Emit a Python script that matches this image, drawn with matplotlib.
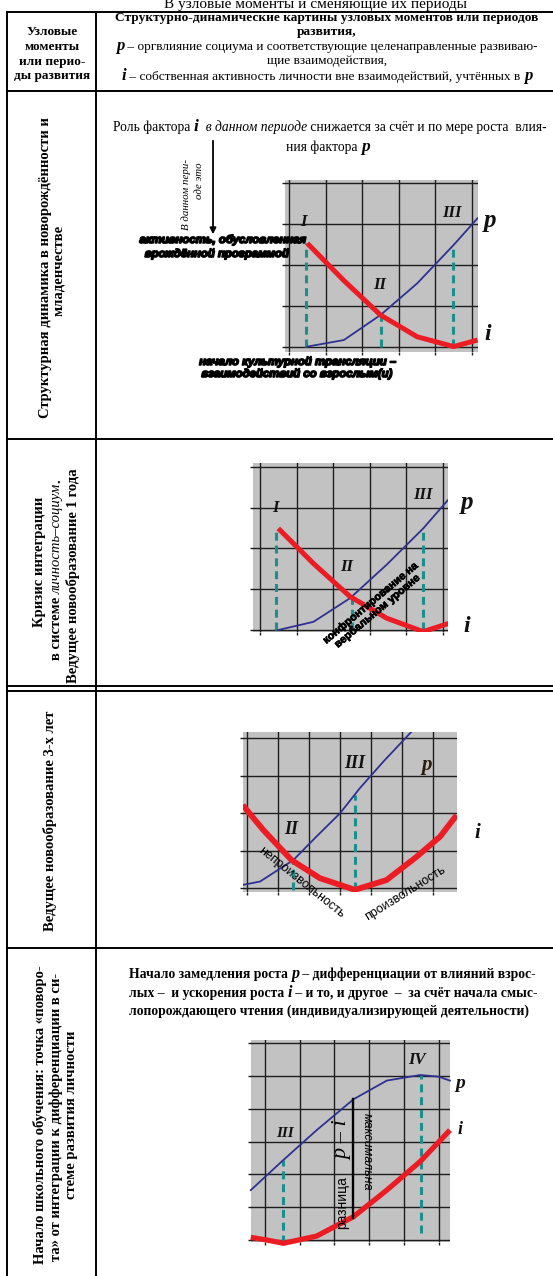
import matplotlib
matplotlib.use("Agg")
import matplotlib.pyplot as plt
from matplotlib import patheffects as pe

SERIF = 'Liberation Serif'
SANS = 'Liberation Sans'
RED = '#ec1c24'
BLUE = '#2e3192'
TEAL = '#1b8f8c'
GRAY = '#c2c2c2'
GRID = '#1e1e1e'

# ---- chart data (grid units) ----
c1_x = [0.5, 1.5, 2.5, 3.5, 4.5, 5.15]
c1_i = [2.53, 1.62, 0.78, 0.25, 0.01, 0.17]
c1_p = [0.01, 0.17, 0.78, 1.55, 2.49, 3.14]
c1_dash_x = [0.46, 2.5, 4.47]
c1_dash_top = [2.53, 0.78, 2.49]

c2_x = [0.5, 1.46, 2.46, 3.46, 4.46, 5.15]
c2_i = [2.49, 1.63, 0.82, 0.29, -0.04, 0.16]
c2_p = [0.0, 0.2, 0.78, 1.6, 2.49, 3.2]
c2_dash_x = [0.45, 2.5, 4.44]
c2_dash_top = [2.49, 0.8, 2.49]

c3_i_x = [-0.13, 0.53, 1.45, 2.36, 3.49, 4.51, 5.48, 6.24, 6.77]
c3_i = [2.22, 1.56, 0.75, 0.27, -0.04, 0.22, 0.84, 1.38, 1.95]
c3_p_x = [-0.13, 0.43, 1.5, 2.25, 3.01, 3.65, 4.41, 5.32]
c3_p = [0.09, 0.18, 0.75, 1.38, 2.0, 2.67, 3.38, 4.18]
c3_dash_x = [1.48, 3.49]
c3_dash_top = [0.75, 2.49]

c4_p_x = [-0.41, 0.53, 1.49, 2.55, 3.51, 4.47, 5.0, 5.33]
c4_p = [1.52, 2.44, 3.35, 4.29, 4.86, 5.03, 4.98, 4.86]
c4_i_x = [-0.41, 0.05, 0.53, 1.49, 2.55, 3.51, 4.47, 5.33]
c4_i = [0.08, 0.0, -0.1, 0.12, 0.71, 1.52, 2.39, 3.35]
c4_dash_x = [0.53, 4.49]
c4_dash_top = [2.44, 5.03]
c4_dash_bot = [-0.1, 0.2]
c4_gap_x = 2.55
c4_gap = [0.66, 4.29]

W, H = 553, 1276
fig = plt.figure(figsize=(W / 100, H / 100), dpi=100)


def chart(origin, unit, box, nx, ny):
    (x0, y0), (ux, uy), (l, t, r, b) = origin, unit, box
    a = fig.add_axes([l / W, 1 - b / H, (r - l) / W, (b - t) / H])
    a.set_xlim((l - x0) / ux, (r - x0) / ux)
    a.set_ylim((y0 - b) / uy, (y0 - t) / uy)
    a.set_facecolor(GRAY)
    a.set_xticks(range(nx + 1))
    a.set_yticks(range(ny + 1))
    a.tick_params(length=2.5, width=1, color=GRID, labelbottom=False, labelleft=False)
    a.grid(color=GRID, lw=1)
    a.set_axisbelow(True)
    for s in a.spines.values():
        s.set_visible(False)
    return a


def roman(a, x, y, s, size=12):
    a.text(x, y, s, fontsize=size, family=SERIF, fontweight='bold', fontstyle='italic',
           ha='center', va='center', color='#111111')


def dashes(a, xs, tops, bots, lw=2.2):
    for x, t, b in zip(xs, tops, bots):
        a.plot([x, x], [b, t], color=TEAL, lw=lw, ls=(0, (2.6, 1.6)), clip_on=False, zorder=2)


# chart 1
a1 = chart((289, 347), (36.6, 41), (285, 180, 478, 352), 5, 4)
dashes(a1, c1_dash_x, c1_dash_top, [0, 0, 0])
a1.plot(c1_x, c1_p, color=BLUE, lw=1.3, zorder=3)
a1.plot(c1_x, c1_i, color=RED, lw=3.6, zorder=4, solid_capstyle='butt')
roman(a1, 0.39, 3.06, 'I')
roman(a1, 2.49, 1.51, 'II')
roman(a1, 4.45, 3.26, 'III')

# chart 2
a2 = chart((260, 630), (36.6, 40.8), (253, 463, 448, 632), 5, 4)
dashes(a2, c2_dash_x, c2_dash_top, [0, 0, 0])
a2.plot(c2_x, c2_p, color=BLUE, lw=1.3, zorder=3)
a2.plot(c2_x, c2_i, color=RED, lw=3.6, zorder=4, solid_capstyle='butt')
roman(a2, 0.41, 2.98, 'I')
roman(a2, 2.37, 1.55, 'II')
roman(a2, 4.46, 3.31, 'III')

# chart 3
a3 = chart((246.7, 888.3), (31, 37.5), (242.7, 731.7, 457.3, 892), 6, 4)
dashes(a3, c3_dash_x, c3_dash_top, [-0.04, -0.04])
a3.plot(c3_p_x, c3_p, color=BLUE, lw=1.3, zorder=3)
a3.plot(c3_i_x, c3_i, color=RED, lw=4.2, zorder=4, solid_capstyle='butt')
roman(a3, 1.45, 1.56, 'II', 13)
roman(a3, 3.49, 3.33, 'III', 13)
a3.text(5.81, 3.29, 'p', fontsize=15, family=SERIF, fontweight='bold', fontstyle='italic',
        ha='center', va='center', color='#2a1a0a')

# chart 4
a4 = chart((265, 1240), (34.7, 32.8), (250.7, 1040, 450, 1242), 5, 6)
dashes(a4, c4_dash_x, c4_dash_top, c4_dash_bot)
a4.plot(c4_p_x, c4_p, color=BLUE, lw=1.3, zorder=3, clip_on=False)
a4.plot(c4_i_x, c4_i, color=RED, lw=3.8, zorder=4, clip_on=False, solid_capstyle='butt')
a4.plot([c4_gap_x, c4_gap_x], c4_gap, color='black', lw=1.7, zorder=5)
roman(a4, 0.58, 3.25, 'III', 11)
roman(a4, 4.37, 5.49, 'IV', 12)

# ---- overlay axes in pixel coordinates ----
ax = fig.add_axes([0, 0, 1, 1], zorder=5)
ax.set_xlim(0, W)
ax.set_ylim(H, 0)
ax.axis('off')

# table lines
LW = 1.4
for y in [12, 91, 439, 686, 691, 948]:
    ax.plot([7, W], [y, y], color='black', lw=LW)
for x in [7, 96]:
    ax.plot([x, x], [12, H], color='black', lw=LW)

R = fig.canvas.get_renderer()


def tw(s, **f):
    t1 = ax.text(0, 0, 'x' + s + 'x', **f)
    t2 = ax.text(0, 0, 'xx', **f)
    w = t1.get_window_extent(R).width - t2.get_window_extent(R).width
    t1.remove()
    t2.remove()
    return w


def rich(x, y, parts, size, align='center', rot=0, fam=SERIF, va='baseline'):
    fonts = []
    for p in parts:
        s, wt, st = p[:3]
        sz = p[3] if len(p) > 3 else size
        fonts.append(dict(fontsize=sz, family=fam, fontweight=wt, fontstyle=st))
    ws = [tw(p[0], **f) for p, f in zip(parts, fonts)]
    total = sum(ws)
    off = {'left': 0, 'center': -total / 2, 'right': -total}[align]
    for p, f, w in zip(parts, fonts, ws):
        if rot == 0:
            px, py = x + off, y
        else:
            px, py = x, y - off
        ax.text(px, py, p[0], rotation=rot, rotation_mode='anchor', ha='left', va=va,
                color='black', **f)
        off += w


# title at top (cut by the page edge in the source)
ax.text(315, 8, 'В узловые моменты и сменяющие их периоды', fontsize=11, family=SERIF,
        ha='center', va='baseline')

# header
for y, s in zip([35, 50, 65, 79], ['Узловые', 'моменты', 'или перио-', 'ды развития']):
    ax.text(52, y, s, fontsize=9.5, family=SERIF, fontweight='bold', ha='center', va='baseline')

HS = 9.6
rich(327, 21, [('Структурно-динамические картины узловых моментов или периодов', 'bold', 'normal')], HS)
rich(327, 35, [('развития,', 'bold', 'normal')], HS)
rich(327, 50, [('p', 'bold', 'italic', 12),
               (' – оргвлияние социума и соответствующие целенаправленные развиваю-', 'normal', 'normal')], HS)
rich(327, 64, [('щие взаимодействия,', 'normal', 'normal')], HS)
rich(327, 80, [('i', 'bold', 'italic', 12),
               (' – собственная активность личности вне взаимодействий, учтённых в ', 'normal', 'normal'),
               ('p', 'bold', 'italic', 12)], HS)

# left column (rotated)
LS = 10.5
rich(45, 268, [('Структурная динамика в новорождённости и', 'bold', 'normal')], LS, rot=90, va='center')
rich(59, 270, [('младенчестве', 'bold', 'normal')], LS, rot=90, va='center')
rich(40, 562, [('Кризис интеграции', 'bold', 'normal')], LS, rot=90, va='center')
rich(57, 570, [('в системе ', 'bold', 'normal'), ('личность–социум', 'normal', 'italic'),
               ('.', 'bold', 'normal')], LS, rot=90, va='center')
rich(73, 576, [('Ведущее новообразование 1 года', 'bold', 'normal')], LS, rot=90, va='center')
rich(50, 821, [('Ведущее новообразование 3-х лет', 'bold', 'normal')], LS, rot=90, va='center')
rich(40, 1115, [('Начало школьного обучения: точка «поворо-', 'bold', 'normal')], LS, rot=90, va='center')
rich(56, 1117, [('та» от интеграции к дифференциации в си-', 'bold', 'normal')], LS, rot=90, va='center')
rich(72, 1115, [('стеме развития личности', 'bold', 'normal')], LS, rot=90, va='center')

# row 1 texts
rich(330, 131, [('Роль фактора ', 'normal', 'normal'), ('i', 'bold', 'italic', 12.5),
                ('  в данном периоде', 'normal', 'italic'),
                (' снижается за счёт и по мере роста  влия-', 'normal', 'normal')], 9.8)
rich(328, 151, [('ния фактора ', 'normal', 'normal'), ('p', 'bold', 'italic', 12.5)], 9.8)
ax.annotate('', xy=(213, 237), xytext=(213, 138),
            arrowprops=dict(arrowstyle='-|>', color='black', lw=1.3, mutation_scale=9))
ax.text(186, 195, 'В данном пери-', rotation=90, rotation_mode='anchor', fontsize=7.8,
        family=SERIF, fontstyle='italic', ha='center', va='center')
ax.text(200, 181, 'оде это', rotation=90, rotation_mode='anchor', fontsize=7.8,
        family=SERIF, fontstyle='italic', ha='center', va='center')

heavy = [pe.withStroke(linewidth=1.1, foreground='black')]
light = [pe.withStroke(linewidth=0.5, foreground='black')]
ax.text(223, 243, 'активность, обусловленная', fontsize=8.2, family=SANS, fontweight='bold',
        fontstyle='italic', ha='center', va='baseline', path_effects=heavy)
ax.text(217, 257, 'врождённой программой', fontsize=8.2, family=SANS, fontweight='bold',
        fontstyle='italic', ha='center', va='baseline', path_effects=heavy)
ax.text(298, 365, 'начало культурной трансляции –', fontsize=8.2, family=SANS, fontweight='bold',
        fontstyle='italic', ha='center', va='baseline', path_effects=heavy)
ax.text(297, 377, 'взаимодействий со взрослым(и)', fontsize=8.2, family=SANS, fontweight='bold',
        fontstyle='italic', ha='center', va='baseline', path_effects=heavy)


# p / i labels
def pi(x, y, s, size):
    ax.text(x, y, s, fontsize=size, family=SERIF, fontweight='bold', fontstyle='italic',
            ha='center', va='center', color='#111111')


pi(490, 220, 'p', 18)
pi(488, 335, 'i', 17)
pi(467, 503, 'p', 18)
pi(467, 627, 'i', 17)
pi(477, 833, 'i', 15)
pi(460, 1083, 'p', 14)
pi(460, 1130, 'i', 13)

# chart 2 slanted label
ax.text(374, 607, 'конфронтирование на\nвербальном уровне', rotation=40, rotation_mode='anchor',
        fontsize=7.8, family=SANS, fontweight='bold', ha='center', va='center',
        multialignment='center', linespacing=1.0, path_effects=light)

# chart 3 slanted labels
ax.text(301, 883, 'непроизвольность', rotation=-38.7, rotation_mode='anchor', fontsize=9,
        family=SANS, ha='center', va='center')
ax.text(405, 893, 'произвольность', rotation=32, rotation_mode='anchor', fontsize=9,
        family=SANS, ha='center', va='center')

# row 4 text
RS = 9.8
rich(129, 978, [('Начало замедления роста ', 'bold', 'normal'), ('p', 'bold', 'italic', 11.5),
                (' – дифференциации от влияний взрос-', 'bold', 'normal')], RS, align='left')
rich(129, 997, [('лых –  и ускорения роста ', 'bold', 'normal'), ('i', 'bold', 'italic', 11.5),
                (' – и то, и другое  –  за счёт начала смыс-', 'bold', 'normal')], RS, align='left')
rich(129, 1015, [('лопорождающего чтения (индивидуализирующей деятельности)', 'bold', 'normal')],
     RS, align='left')

# chart 4 annotations
ax.text(341.7, 1203, 'разница', rotation=90, rotation_mode='anchor', fontsize=10,
        family=SANS, ha='center', va='center')
ax.text(343.3, 1140, 'p – i', rotation=90, rotation_mode='anchor', fontsize=16,
        family=SERIF, fontstyle='italic', ha='center', va='center')
ax.text(366.7, 1152, 'максимальна', rotation=-90, rotation_mode='anchor', fontsize=9,
        family=SANS, fontstyle='italic', ha='center', va='center')

fig.savefig('out.png', dpi=100)
